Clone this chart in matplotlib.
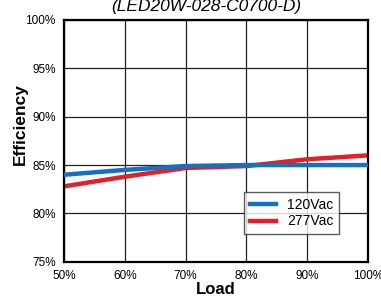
import matplotlib
matplotlib.use('Agg')
import matplotlib.pyplot as plt
from matplotlib.ticker import FuncFormatter

plt.rcParams['font.family'] = ['Liberation Sans', 'DejaVu Sans']

# data
load = [50, 60, 70, 80, 90, 100]
eff_120 = [84.0, 84.5, 84.9, 85.0, 85.0, 85.0]
eff_277 = [82.8, 83.8, 84.7, 84.9, 85.6, 86.0]
y_ticks = [75, 80, 85, 90, 95, 100]

fig = plt.figure(figsize=(3.81, 3.01), dpi=100)
ax = fig.add_axes([0.168, 0.13, 0.798, 0.804])

ax.plot(load, eff_120, color='#1570be', lw=3.2, label='120Vac', zorder=3)
ax.plot(load, eff_277, color='#e42027', lw=3.2, label='277Vac', zorder=2)

ax.set_xlim(50, 100)
ax.set_ylim(75, 100)
ax.set_xticks(load)
ax.set_yticks(y_ticks)
pct = FuncFormatter(lambda v, p: f'{v:.0f}%')
ax.xaxis.set_major_formatter(pct)
ax.yaxis.set_major_formatter(pct)
ax.tick_params(length=0, labelsize=8.5, pad=6)
ax.grid(True, color='#222222', lw=0.9)
for s in ax.spines.values():
    s.set_linewidth(1.6)

ax.set_xlabel('Load', fontsize=12, fontweight='bold', labelpad=0)
ax.set_ylabel('Efficiency', fontsize=12.5, fontweight='bold')
ax.yaxis.set_label_coords(-0.12, 0.57)
# title sits partly above the top edge, like the original
fig.text(0.541, 0.962, '(LED20W-028-C0700-D)', fontsize=12.5, style='italic',
         ha='center', va='baseline')

leg = ax.legend(loc='lower right', bbox_to_anchor=(0.905, 0.115), fontsize=10,
                frameon=True, fancybox=False, edgecolor='#333333',
                handlelength=1.9, handletextpad=0.8, borderpad=0.4,
                labelspacing=0.2, borderaxespad=0)
leg.get_frame().set_linewidth(1.0)

fig.savefig('out.png', dpi=100)
